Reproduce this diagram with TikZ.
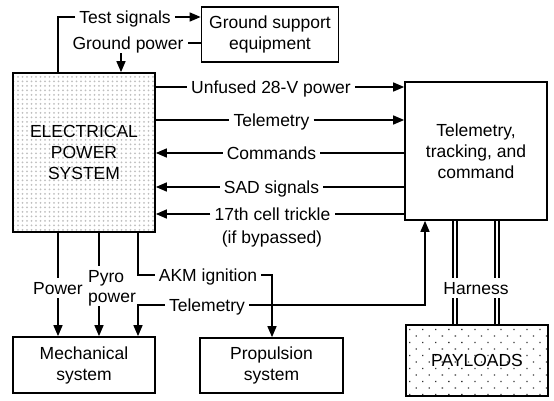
\documentclass[tikz,border=0pt]{standalone}
\usepackage{fontspec}
\setmainfont{Liberation Sans}
\usetikzlibrary{arrows.meta, patterns.meta, positioning}
\newcommand{\lblfont}{\fontsize{17.5}{21}\selectfont}

\begin{document}
\begin{tikzpicture}[x=1pt, y=-1pt,
  sysbox/.style={draw, line width=1.7pt, align=center, inner sep=0pt, font=\lblfont},
  sig/.style={inner sep=4pt, text height=12.5pt, text depth=0pt, font=\lblfont},
  wire/.style={line width=1.4pt},
  flow/.style={wire, -{Triangle[length=11pt, width=9pt]}},
  harness/.style={line width=2.2pt, double, double distance=1.6pt}
]
  \useasboundingbox (0,0) rectangle (554,401);

  % blocks
  \node[sysbox, minimum width=142pt, minimum height=159pt, pattern={Dots[distance=4.5pt, radius=1pt]}, pattern color=gray!50] (eps) at (84,152.5) {ELECTRICAL\\POWER\\SYSTEM};
  \node[sysbox, minimum width=137pt, minimum height=55pt] (gse) at (270,34.5) {Ground support\\equipment};
  \node[sysbox, minimum width=142pt, minimum height=138pt] (ttc) at (476,151) {Telemetry,\\tracking, and\\command};
  \node[sysbox, minimum width=142pt, minimum height=56pt] (mech) at (84,365) {Mechanical\\system};
  \node[sysbox, minimum width=143pt, minimum height=55pt] (prop) at (271.5,365.5) {Propulsion\\system};
  \node[sysbox, minimum width=142pt, minimum height=71pt, pattern={Dots[distance=9.2pt, angle=45, radius=0.9pt]}, pattern color=black!80] (pay) at (477,360.5) {PAYLOADS};

  % signal labels
  \node[sig] (tst) at (125,17) {Test signals};
  \node[sig] (gpw) at (128,43) {Ground power};
  \node[sig] (unf) at (271,87) {Unfused 28-V power};
  \node[sig] (tlm) at (271.5,120) {Telemetry};
  \node[sig] (cmd) at (271.5,153) {Commands};
  \node[sig] (sad) at (271.5,187) {SAD signals};
  \node[sig] (trk) at (272.5,214) {17th cell trickle};
  \node[sig] (byp) at (272,237) {(if bypassed)};
  \node[sig] (pwr) at (58,288) {Power};
  \node[sig, anchor=west] (pyra) at (84,276) {Pyro};
  \node[sig, anchor=west] (pyrb) at (84,296) {power};
  \node[sig] (akm) at (208,275) {AKM ignition};
  \node[sig] (tlmb) at (207,305) {Telemetry};
  \node[sig] (hrn) at (476,288) {Harness};

  % drop points
  \coordinate (tsx) at (58,0);
  \coordinate (gpx) at (121,0);
  \coordinate (pyx) at (99,0);
  \coordinate (akx) at (138,0);
  \coordinate (prx) at (272,0);
  \coordinate (upx) at (425,0);
  \coordinate (hra) at (455,0);
  \coordinate (hrb) at (497,0);

  % ground support
  \draw[wire] (tst) -| (tsx |- eps.north);
  \draw[flow] (tst) -- (tst -| gse.west);
  \draw[wire] (gse.west |- gpw) -- (gpw);
  \draw[flow] (gpw.south -| gpx) -- (gpx |- eps.north);

  % EPS to TT&C
  \draw[wire] (eps.east |- unf) -- (unf);
  \draw[flow] (unf) -- (unf -| ttc.west);
  \draw[wire] (eps.east |- tlm) -- (tlm);
  \draw[flow] (tlm) -- (tlm -| ttc.west);
  \draw[wire] (ttc.west |- cmd) -- (cmd);
  \draw[flow] (cmd) -- (cmd -| eps.east);
  \draw[wire] (ttc.west |- sad) -- (sad);
  \draw[flow] (sad) -- (sad -| eps.east);
  \draw[wire] (ttc.west |- trk) -- (trk);
  \draw[flow] (trk) -- (trk -| eps.east);

  % EPS to lower blocks
  \draw[wire] (eps.south -| pwr) -- (pwr);
  \draw[flow] (pwr) -- (pwr |- mech.north);
  \draw[wire] (eps.south -| pyx) -- (pyra.north -| pyx);
  \draw[flow] (pyrb.south -| pyx) -- (pyx |- mech.north);
  \draw[wire] (eps.south -| akx) |- (akm);
  \draw[flow] (akm) -| (prx |- prop.north);
  \draw[flow] (tlmb) -| (akx |- mech.north);
  \draw[flow] (tlmb) -| (upx |- ttc.south);

  % harness
  \draw[harness] (hra |- ttc.south) -- (hra |- hrn.north);
  \draw[harness] (hra |- hrn.south) -- (hra |- pay.north);
  \draw[harness] (hrb |- ttc.south) -- (hrb |- hrn.north);
  \draw[harness] (hrb |- hrn.south) -- (hrb |- pay.north);
\end{tikzpicture}
\end{document}
